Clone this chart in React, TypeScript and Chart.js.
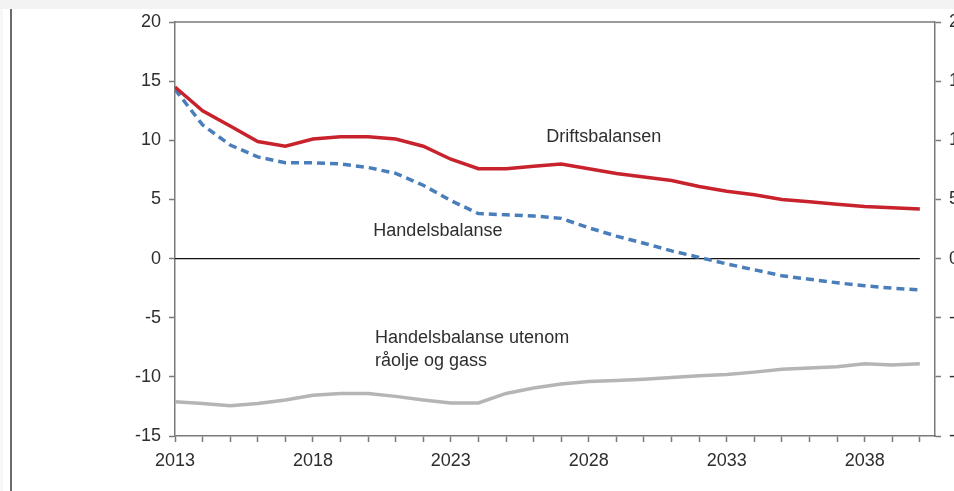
import { useEffect, useRef } from "react";
import { Chart, registerables } from "chart.js";

Chart.register(...registerables);

const years = [
  2013, 2014, 2015, 2016, 2017, 2018, 2019, 2020, 2021, 2022, 2023, 2024, 2025, 2026,
  2027, 2028, 2029, 2030, 2031, 2032, 2033, 2034, 2035, 2036, 2037, 2038, 2039, 2040,
];
const driftsbalansen = [
  14.5, 12.5, 11.2, 9.9, 9.5, 10.1, 10.3, 10.3, 10.1, 9.5, 8.4, 7.6, 7.6, 7.8,
  8.0, 7.6, 7.2, 6.9, 6.6, 6.1, 5.7, 5.4, 5.0, 4.8, 4.6, 4.4, 4.3, 4.2,
];
const handelsbalanse = [
  14.3, 11.3, 9.6, 8.6, 8.1, 8.1, 8.0, 7.7, 7.2, 6.2, 4.9, 3.8, 3.7, 3.6,
  3.4, 2.6, 1.9, 1.3, 0.65, 0.1, -0.45, -0.95, -1.45, -1.75, -2.05, -2.3, -2.5, -2.65,
];
const utenomOljeGass = [
  -12.1, -12.25, -12.45, -12.25, -11.95, -11.55, -11.4, -11.4, -11.65, -11.95, -12.2, -12.2, -11.4, -10.95,
  -10.6, -10.4, -10.3, -10.2, -10.05, -9.9, -9.8, -9.6, -9.35, -9.25, -9.15, -8.9, -9.0, -8.9,
];
const xLabelYears = [2013, 2018, 2023, 2028, 2033, 2038];
const yMin = -15;
const yMax = 20;
const yStep = 5;

const labelTexts = ["Driftsbalansen", "Handelsbalanse", "Handelsbalanse utenom", "råolje og gass"];
const labelX = [2028.54, 2022.53, 2020.25, 2020.25];
const labelY = [10.25, 2.37, -6.7, -8.64];
const labelAlign = ["center", "center", "left", "left"];

const FONT = "'Liberation Sans', Arial, sans-serif";
const AXIS = "#7a7a7a";
const TEXT = "#2e2e2e";

const overlay = {
  id: "overlay",
  beforeDatasetsDraw(chart: any) {
    const { ctx, chartArea, scales } = chart;
    const x = scales.x;
    const y = scales.y;
    ctx.save();
    ctx.strokeStyle = AXIS;
    ctx.lineWidth = 1.5;
    ctx.beginPath();
    ctx.moveTo(chartArea.left, chartArea.top);
    ctx.lineTo(chartArea.right, chartArea.top);
    ctx.stroke();
    ctx.strokeStyle = "#111";
    ctx.lineWidth = 1.2;
    ctx.beginPath();
    ctx.moveTo(x.getPixelForValue(years[0]), y.getPixelForValue(0));
    ctx.lineTo(x.getPixelForValue(years[years.length - 1]), y.getPixelForValue(0));
    ctx.stroke();
    ctx.restore();
  },
  afterDatasetsDraw(chart: any) {
    const { ctx, scales } = chart;
    ctx.save();
    ctx.font = `18px ${FONT}`;
    ctx.fillStyle = TEXT;
    ctx.textBaseline = "middle";
    labelTexts.forEach((t, i) => {
      ctx.textAlign = labelAlign[i];
      ctx.fillText(t, scales.x.getPixelForValue(labelX[i]), scales.y.getPixelForValue(labelY[i]));
    });
    ctx.restore();
  },
};

export default function App() {
  const ref = useRef<HTMLCanvasElement>(null);
  useEffect(() => {
    if (!ref.current) return;
    const toPts = (arr: number[]) => years.map((yr, i) => ({ x: yr, y: arr[i] }));
    const tickFont = { family: FONT, size: 18 };
    const yScale = (position: string, width: number) => ({
      type: "linear",
      position,
      min: yMin,
      max: yMax,
      border: { color: AXIS, width: 1.5 },
      grid: { drawOnChartArea: false, drawTicks: true, tickLength: 6, tickColor: AXIS, tickWidth: 1.5 },
      ticks: { stepSize: yStep, font: tickFont, color: TEXT, padding: 8 },
      afterFit: (s: any) => {
        s.width = width;
      },
    });
    const chart = new Chart(ref.current, {
      type: "line",
      data: {
        datasets: [
          {
            label: "Driftsbalansen",
            data: toPts(driftsbalansen),
            borderColor: "#c8232c",
            borderWidth: 3.5,
            pointRadius: 0,
            tension: 0,
          },
          {
            label: "Handelsbalanse",
            data: toPts(handelsbalanse),
            borderColor: "#4a7ebb",
            borderWidth: 3.5,
            borderDash: [8, 5],
            pointRadius: 0,
            tension: 0,
          },
          {
            label: "Handelsbalanse utenom råolje og gass",
            data: toPts(utenomOljeGass),
            borderColor: "#b5b5b5",
            borderWidth: 3.5,
            pointRadius: 0,
            tension: 0,
          },
        ],
      },
      options: {
        animation: false,
        responsive: false,
        maintainAspectRatio: false,
        layout: { padding: { top: 22, left: 0, right: 0, bottom: 0 } },
        plugins: { legend: { display: false }, tooltip: { enabled: false } },
        scales: {
          x: {
            type: "linear",
            min: 2013,
            max: 2040.55,
            border: { color: AXIS, width: 1.5 },
            grid: { drawOnChartArea: false, drawTicks: true, tickLength: 6, tickColor: AXIS, tickWidth: 1.5 },
            ticks: {
              stepSize: 1,
              includeBounds: false,
              autoSkip: false,
              maxRotation: 0,
              font: tickFont,
              color: TEXT,
              padding: 8,
              callback: (v: any) => (xLabelYears.includes(Number(v)) ? String(v) : ""),
            },
            afterFit: (s: any) => {
              s.height = 55;
            },
          },
          y: yScale("left", 175),
          y2: yScale("right", 65),
        } as any,
      },
      plugins: [overlay],
    } as any);
    return () => chart.destroy();
  }, []);

  return (
    <div
      style={{
        position: "fixed",
        left: 0,
        top: 0,
        width: 954,
        height: 491,
        overflow: "hidden",
        background: "#ffffff",
      }}
    >
      <div style={{ position: "absolute", left: 0, top: 0, width: 954, height: 9, background: "#f3f3f3" }} />
      <div style={{ position: "absolute", left: 0, top: 9, width: 3, height: 482, background: "#f7f7f7" }} />
      <div style={{ position: "absolute", left: 10, top: 9, width: 2, height: 482, background: "#6a6a6a" }} />
      <canvas ref={ref} width={1000} height={491} style={{ position: "absolute", left: 0, top: 0 }} />
    </div>
  );
}
